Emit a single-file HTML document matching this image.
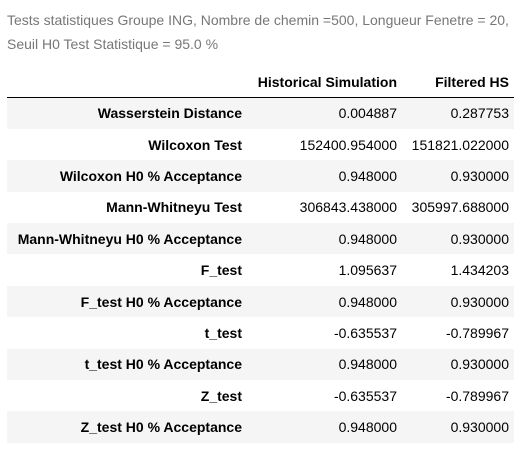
<!DOCTYPE html>
<html><head><meta charset="utf-8"><style>
body{margin:0;background:#fff;font-family:"Liberation Sans",Arial,sans-serif;}
.cap{position:absolute;left:7px;top:8px;width:520px;font-size:14px;line-height:24px;color:#777;}
table{position:absolute;left:7px;top:66px;border-collapse:collapse;font-size:14px;color:#000;table-layout:fixed;}
th,td{text-align:right;padding:0 5px;white-space:nowrap;}
thead th{height:31px;border-bottom:1px solid #000;vertical-align:middle;}
tbody tr{height:31.4px;}
tbody tr:nth-child(odd){background:#f5f5f5;}
tbody th{font-weight:bold;}
</style></head><body>
<div class="cap">Tests statistiques Groupe ING, Nombre de chemin =500, Longueur Fenetre = 20, Seuil H0 Test Statistique = 95.0 %</div>
<table>
<colgroup><col style="width:240px"><col style="width:155px"><col style="width:112px"></colgroup>
<thead><tr><th></th><th>Historical Simulation</th><th>Filtered HS</th></tr></thead>
<tbody>
<tr><th>Wasserstein Distance</th><td>0.004887</td><td>0.287753</td></tr>
<tr><th>Wilcoxon Test</th><td>152400.954000</td><td>151821.022000</td></tr>
<tr><th>Wilcoxon H0 % Acceptance</th><td>0.948000</td><td>0.930000</td></tr>
<tr><th>Mann-Whitneyu Test</th><td>306843.438000</td><td>305997.688000</td></tr>
<tr><th>Mann-Whitneyu H0 % Acceptance</th><td>0.948000</td><td>0.930000</td></tr>
<tr><th>F_test</th><td>1.095637</td><td>1.434203</td></tr>
<tr><th>F_test H0 % Acceptance</th><td>0.948000</td><td>0.930000</td></tr>
<tr><th>t_test</th><td>-0.635537</td><td>-0.789967</td></tr>
<tr><th>t_test H0 % Acceptance</th><td>0.948000</td><td>0.930000</td></tr>
<tr><th>Z_test</th><td>-0.635537</td><td>-0.789967</td></tr>
<tr><th>Z_test H0 % Acceptance</th><td>0.948000</td><td>0.930000</td></tr>
</tbody></table>
</body></html>
